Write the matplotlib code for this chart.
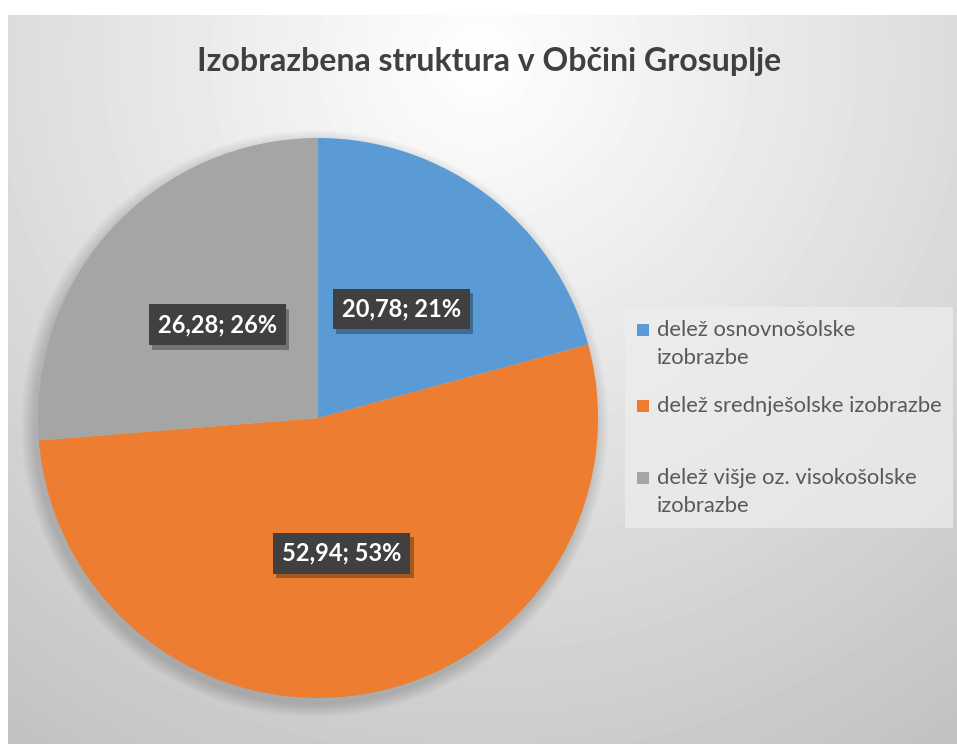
import numpy as np
import matplotlib.pyplot as plt
import matplotlib.patheffects as pe
from matplotlib.patches import Rectangle, Circle

plt.rcParams["font.family"] = ["Lato", "DejaVu Sans"]

# data
categories = [
    "delež osnovnošolske\nizobrazbe",
    "delež srednješolske izobrazbe",
    "delež višje oz. visokošolske\nizobrazbe",
]
values = [20.78, 52.94, 26.28]
pct_labels = ["21%", "53%", "26%"]
colors = ["#5b9bd5", "#ed7d31", "#a5a5a5"]
title = "Izobrazbena struktura v Občini Grosuplje"

W, H = 957, 744
fig = plt.figure(figsize=(W / 100, H / 100), dpi=100)

# radial gradient background (chart area)
bg = fig.add_axes([8 / W, 0, (W - 8) / W, (H - 15) / H])
yy, xx = np.mgrid[15:H, 8:W]
d = np.hypot(xx - 480, yy - 60)
shade = 1 - 0.25 * np.clip(d / 860, 0, 1)
bg.imshow(shade, cmap="gray", vmin=0, vmax=1, aspect="auto",
          extent=(0, 1, 0, 1), interpolation="bilinear")
bg.set_xlim(0, 1)
bg.set_ylim(0, 1)
bg.axis("off")

# pie
cx, cy, r = 318, 418, 280
ax = fig.add_axes([(cx - r) / W, (H - cy - r) / H, 2 * r / W, 2 * r / H])
# soft shadow
for k in range(12):
    ax.add_patch(Circle((-0.012, -0.02), 1.0 + 0.004 * (12 - k), color="black",
                        alpha=0.012, lw=0, zorder=0, clip_on=False))
wedges, _ = ax.pie(values, colors=colors, startangle=90, counterclock=False,
                   radius=1, wedgeprops=dict(linewidth=0))
for w in wedges:
    w.set_zorder(2)

for w, v, p in zip(wedges, values, pct_labels):
    ang = np.deg2rad((w.theta1 + w.theta2) / 2)
    x, y = 0.49 * np.cos(ang), 0.49 * np.sin(ang)
    txt = f"{v:.2f}".replace(".", ",") + "; " + p
    t = ax.text(x, y, txt, ha="center", va="center", fontsize=17,
                fontweight="bold", color="white", zorder=4,
                bbox=dict(boxstyle="square,pad=0.38", fc="#404040", ec="none"))
    t.get_bbox_patch().set_path_effects(
        [pe.SimplePatchShadow(offset=(2.5, -3), shadow_rgbFace="black", alpha=0.3),
         pe.Normal()])
ax.set_xlim(-1, 1)
ax.set_ylim(-1, 1)
ax.axis("off")

# title
fig.text(489 / W, 1 - 62 / H, title, ha="center", va="center", fontsize=23,
         fontweight="bold", color="#404040")

# legend
fig.patches.append(Rectangle((625 / W, 1 - 528 / H), 328 / W, 221 / H,
                             transform=fig.transFigure, fc="#eeeeee", ec="none",
                             alpha=0.7, zorder=1))
legend_y = [330, 406, 478]
for y, c, lab in zip(legend_y, colors, categories):
    fig.patches.append(Rectangle((637 / W, 1 - (y + 6) / H), 12 / W, 12 / H,
                                 transform=fig.transFigure, fc=c, ec="none",
                                 zorder=2))
    fig.text(657 / W, 1 - (y - 10) / H, lab, ha="left", va="top", fontsize=15.8,
             color="#595959", linespacing=1.52)

fig.savefig("out.png", dpi=100, facecolor="white")
